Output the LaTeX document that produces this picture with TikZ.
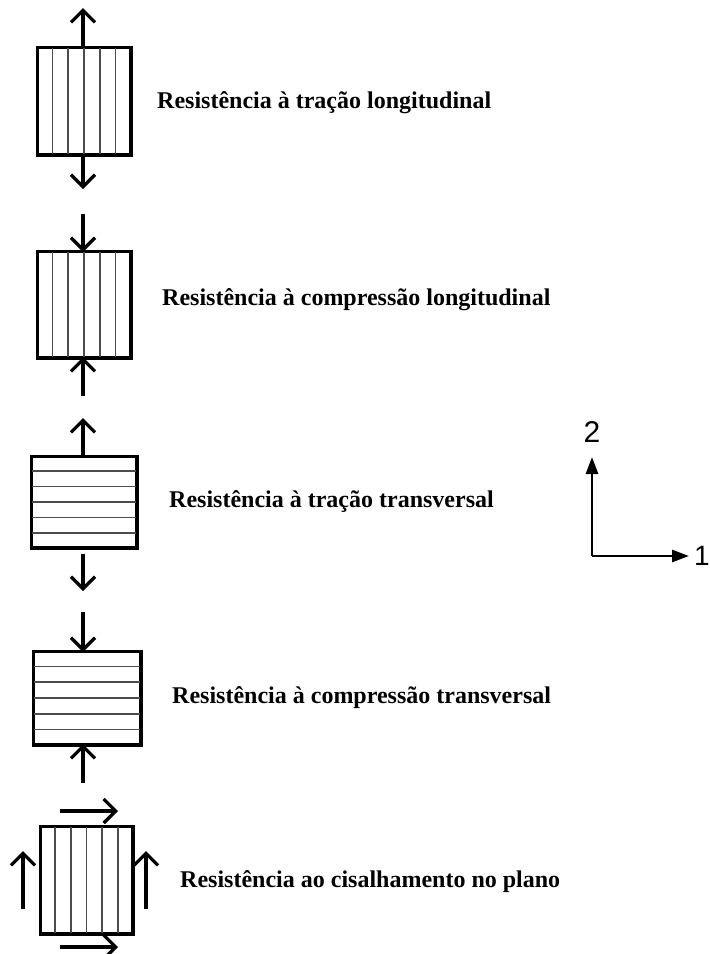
\documentclass[tikz,border=0pt]{standalone}
\usepackage{fontspec}
\setmainfont{Liberation Serif}
\newfontfamily\axisfont{Liberation Sans}
\usetikzlibrary{arrows.meta, calc}

\begin{document}
\begin{tikzpicture}[x=1pt, y=-1pt,
    ply/.style={draw, line width=2.5pt, rectangle, inner sep=0pt},
    fibre/.style={gray!60!black, line width=1.8pt},
    force/.style={line width=3.4pt, -{Straight Barb[length=12pt, width=24pt, line width=3.2pt]}},
    axis/.style={line width=2.8pt, -{Triangle[length=17pt, width=12pt]}},
    caption/.style={right, font=\bfseries\fontsize{24}{28}\selectfont, inner sep=0pt}]
\useasboundingbox (0,0) rectangle (710,954);

% tracao longitudinal
\node[ply, minimum width=92pt, minimum height=106pt] (b1) at (84,101) {};
\foreach \i in {1,...,5}
  \draw[fibre] ($(b1.north west)!\i/6!(b1.north east)$) -- ($(b1.south west)!\i/6!(b1.south east)$);
\draw[ply] (b1.north west) rectangle (b1.south east);
\draw[force] (83,48) -- (83,8);
\draw[force] (83,154) -- (83,189);
\node[caption] (t1) at (157,103) {Resistência à tração longitudinal};

% compressao longitudinal
\node[ply, minimum width=92pt, minimum height=105pt] (b2) at (84,304.5) {};
\foreach \i in {1,...,5}
  \draw[fibre] ($(b2.north west)!\i/6!(b2.north east)$) -- ($(b2.south west)!\i/6!(b2.south east)$);
\draw[ply] (b2.north west) rectangle (b2.south east);
\draw[force] (83,214) -- (83,252);
\draw[force] (83,396) -- (83,357);
\node[caption] (t2) at (162,300) {Resistência à compressão longitudinal};

% tracao transversal
\node[ply, minimum width=104pt, minimum height=90pt] (b3) at (84,502) {};
\foreach \i in {1,...,5}
  \draw[fibre] ($(b3.north west)!\i/6!(b3.south west)$) -- ($(b3.north east)!\i/6!(b3.south east)$);
\draw[ply] (b3.north west) rectangle (b3.south east);
\draw[force] (83,457) -- (83,418);
\draw[force] (83,554) -- (83,591);
\node[caption] (t3) at (169,502) {Resistência à tração transversal};

% compressao transversal
\node[ply, minimum width=106pt, minimum height=92pt] (b4) at (87,698) {};
\foreach \i in {1,...,5}
  \draw[fibre] ($(b4.north west)!\i/6!(b4.south west)$) -- ($(b4.north east)!\i/6!(b4.south east)$);
\draw[ply] (b4.north west) rectangle (b4.south east);
\draw[force] (83,612) -- (83,652);
\draw[force] (83,783) -- (83,744);
\node[caption] (t4) at (172,698) {Resistência à compressão transversal};

% cisalhamento no plano
\node[ply, minimum width=91pt, minimum height=106pt] (b5) at (86.5,880) {};
\foreach \i in {1,...,5}
  \draw[fibre] ($(b5.north west)!\i/6!(b5.north east)$) -- ($(b5.south west)!\i/6!(b5.south east)$);
\draw[ply] (b5.north west) rectangle (b5.south east);
\draw[force] (60,811) -- (118,811);
\draw[force] (60,947) -- (118,947);
\draw[force] (23,909) -- (23,851);
\draw[force] (146,909) -- (146,851);
\node[caption] (t5) at (180,882) {Resistência ao cisalhamento no plano};

% eixos
\coordinate (o) at (592,556);
\draw[axis] (o) -- (592,457);
\draw[axis] (o) -- (689,556);
\node[font=\axisfont\fontsize{30}{30}\selectfont] (e2) at (592,432) {2};
\node[font=\axisfont\fontsize{28}{28}\selectfont, left, inner sep=0pt] (e1) at (710,556) {1};
\end{tikzpicture}
\end{document}
